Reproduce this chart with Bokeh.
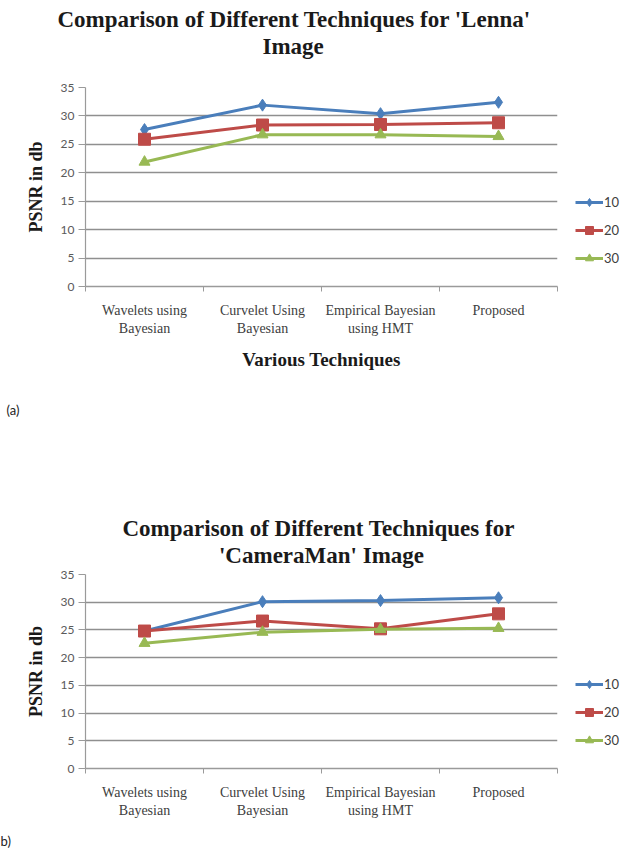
from bokeh.plotting import figure
from bokeh.models import Legend, LegendItem, FixedTicker, Range1d, Title
from bokeh.layouts import column
from bokeh.embed import file_html
from bokeh.resources import INLINE

# ---------------- data ----------------
techniques = ["Wavelets using\nBayesian", "Curvelet Using\nBayesian",
              "Empirical Bayesian\nusing HMT", "Proposed"]
series_names = ["10", "20", "30"]
lenna_10 = [27.6, 31.9, 30.4, 32.4]
lenna_20 = [25.9, 28.4, 28.5, 28.8]
lenna_30 = [21.9, 26.7, 26.7, 26.4]
camera_10 = [24.8, 30.1, 30.3, 30.8]
camera_20 = [24.8, 26.6, 25.2, 27.9]
camera_30 = [22.6, 24.6, 25.1, 25.3]
y_ticks = [0, 5, 10, 15, 20, 25, 30, 35]
title_a = ["Comparison of Different  Techniques for 'Lenna'", "Image"]
title_b = ["Comparison of Different  Techniques for", "'CameraMan' Image"]
y_title = "PSNR in db"
x_title = "Various Techniques"

COLORS = ["#4a7ebb", "#be4b48", "#98b954"]
MARKERS = ["diamond", "square", "triangle"]
MSIZES = [12, 12, 11]

SERIF = "Liberation Serif"
SANS = "Lato"


def make_chart(values, titles, title_offsets, title_align, spacer, title_lh,
               b_left, b_top, b_right, b_bottom, frame_w, frame_h,
               caption, caption_offset, caption_standoff, show_xtitle):
    xs = list(range(1, len(techniques) + 1))
    p = figure(frame_width=frame_w, frame_height=frame_h, output_backend="svg",
               toolbar_location=None,
               x_range=Range1d(0.5, len(techniques) + 0.5),
               y_range=Range1d(0, 35),
               min_border_left=b_left, min_border_right=b_right,
               min_border_top=b_top, min_border_bottom=b_bottom)
    p.outline_line_color = None
    p.background_fill_color = "white"
    p.border_fill_color = "white"

    # grid
    p.xgrid.grid_line_color = None
    p.ygrid.grid_line_color = "#8f8f8f"
    p.ygrid.grid_line_width = 1.6

    # y axis
    p.yaxis.ticker = FixedTicker(ticks=y_ticks)
    p.yaxis.axis_line_color = "#9a9a9a"
    p.yaxis.axis_line_width = 1.2
    p.yaxis.major_tick_line_color = "#9a9a9a"
    p.yaxis.major_tick_out = 7
    p.yaxis.major_tick_in = 0
    p.yaxis.minor_tick_line_color = None
    p.yaxis.major_label_text_font = SANS
    p.yaxis.major_label_text_font_size = "12px"
    p.yaxis.major_label_text_color = "#5a5a5a"
    p.yaxis.major_label_standoff = 4
    p.yaxis.axis_label = y_title
    p.yaxis.axis_label_text_font = SERIF
    p.yaxis.axis_label_text_font_style = "bold"
    p.yaxis.axis_label_text_font_size = "18px"
    p.yaxis.axis_label_text_color = "#1a1a1a"
    p.yaxis.axis_label_standoff = 12

    # x axis: labels at categories, ticks between categories
    bounds = [i + 0.5 for i in range(0, len(techniques) + 1)]
    p.xaxis.ticker = FixedTicker(ticks=xs, minor_ticks=bounds)
    p.xaxis.major_label_overrides = {x: t for x, t in zip(xs, techniques)}
    p.xaxis.axis_line_color = "#9a9a9a"
    p.xaxis.axis_line_width = 1.6
    p.xaxis.major_tick_line_color = None
    p.xaxis.minor_tick_line_color = "#9a9a9a"
    p.xaxis.minor_tick_out = 5
    p.xaxis.minor_tick_in = 0
    p.xaxis.major_label_text_font = SERIF
    p.xaxis.major_label_text_font_size = "14px"
    p.xaxis.major_label_text_color = "#404040"
    p.xaxis.major_label_standoff = 10
    if show_xtitle:
        p.xaxis.axis_label = x_title
        p.xaxis.axis_label_text_font = SERIF
        p.xaxis.axis_label_text_font_style = "bold"
        p.xaxis.axis_label_text_font_size = "19px"
        p.xaxis.axis_label_text_color = "#1a1a1a"
        p.xaxis.axis_label_standoff = 10

    # series
    items = []
    for name, vals, c, m, s in zip(series_names, values, COLORS, MARKERS, MSIZES):
        lr = p.line(xs, vals, line_color=c, line_width=3)
        sr = p.scatter(xs, vals, marker=m, size=s, fill_color=c, line_color=c)
        items.append(LegendItem(label=name, renderers=[lr, sr]))

    legend = Legend(items=items, location=(18, 18),
                    glyph_width=28, glyph_height=20, label_standoff=1,
                    spacing=8, padding=0, margin=0,
                    label_text_font=SANS, label_text_font_size="13px",
                    label_text_color="#404040",
                    background_fill_alpha=0, border_line_color=None)
    p.add_layout(legend, "right")

    # spacer between frame and title block
    if spacer:
        p.add_layout(Title(text=" ", text_font_size=f"{spacer}px", standoff=0), "above")
    # titles (added nearest-first)
    for t, off in zip(reversed(titles), reversed(title_offsets)):
        p.add_layout(Title(text=t, align=title_align, offset=off,
                           text_font=SERIF, text_font_style="bold",
                           text_font_size="23px", text_color="#1a1a1a",
                           text_line_height=title_lh, standoff=0), "above")
    # caption below
    p.add_layout(Title(text=caption, align="left", offset=caption_offset,
                       text_font=SANS, text_font_style="normal",
                       text_font_size="13px", text_color="#222222",
                       standoff=caption_standoff), "below")
    return p


p1 = make_chart([lenna_10, lenna_20, lenna_30], title_a, [-28, 177], "left", 24, 0.9,
                b_left=83, b_top=87, b_right=71, b_bottom=154, frame_w=472, frame_h=199,
                caption="(a)", caption_offset=-79, caption_standoff=55, show_xtitle=True)
p2 = make_chart([camera_10, camera_20, camera_30], title_b, [0, 0], "center", 4, 0.9,
                b_left=85, b_top=129, b_right=69, b_bottom=80, frame_w=472, frame_h=194,
                caption="b)", caption_offset=-85, caption_standoff=20, show_xtitle=False)

layout = column(p1, p2, spacing=0)
open("out.html", "w").write(file_html(layout, INLINE))
